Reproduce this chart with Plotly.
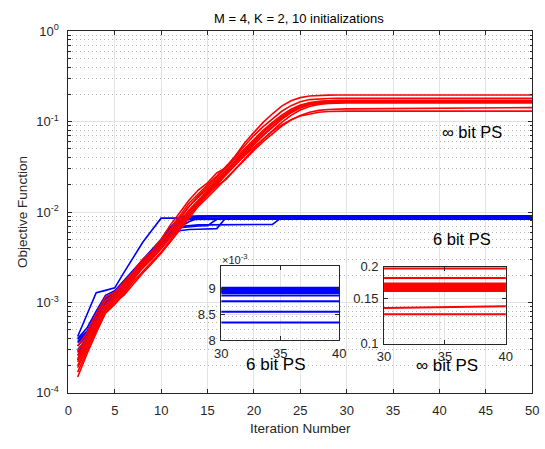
import plotly.graph_objects as go

iterations = list(range(1, 31)) + [50]

red_runs = [
    [3.3e-4, 4.6e-4, 7.5e-4, 1.15e-3, 1.3e-3, 1.7e-3, 2.2e-3, 3.0e-3, 3.7e-3, 5.0e-3, 7.2e-3, 9.8e-3, 1.35e-2, 1.75e-2, 2.1e-2, 2.7e-2, 3.1e-2, 4.2e-2, 5.8e-2, 7.6e-2, 9.8e-2, 0.122, 0.148, 0.170, 0.184, 0.192, 0.195, 0.196, 0.197, 0.197, 0.197],
    [2.9e-4, 4.2e-4, 6.8e-4, 1.05e-3, 1.25e-3, 1.6e-3, 2.1e-3, 2.8e-3, 3.5e-3, 4.7e-3, 6.6e-3, 9.0e-3, 1.25e-2, 1.6e-2, 2.0e-2, 2.5e-2, 3.2e-2, 4.1e-2, 5.4e-2, 7.0e-2, 8.8e-2, 0.108, 0.130, 0.150, 0.166, 0.175, 0.179, 0.180, 0.181, 0.181, 0.181],
    [2.2e-4, 3.5e-4, 5.6e-4, 8.6e-4, 1.1e-3, 1.45e-3, 1.95e-3, 2.5e-3, 3.2e-3, 4.2e-3, 5.7e-3, 7.9e-3, 1.05e-2, 1.35e-2, 1.75e-2, 2.2e-2, 2.8e-2, 3.6e-2, 4.7e-2, 6.0e-2, 7.6e-2, 9.3e-2, 0.112, 0.132, 0.149, 0.161, 0.168, 0.171, 0.172, 0.172, 0.172],
    [1.9e-4, 3.1e-4, 5.2e-4, 8.2e-4, 1.0e-3, 1.3e-3, 1.8e-3, 2.4e-3, 3.1e-3, 4.0e-3, 5.4e-3, 7.4e-3, 9.9e-3, 1.3e-2, 1.65e-2, 2.1e-2, 2.7e-2, 3.5e-2, 4.5e-2, 5.7e-2, 7.2e-2, 8.9e-2, 0.108, 0.127, 0.144, 0.157, 0.165, 0.169, 0.170, 0.170, 0.170],
    [2.6e-4, 3.9e-4, 6.2e-4, 9.5e-4, 1.2e-3, 1.4e-3, 1.9e-3, 2.6e-3, 3.4e-3, 4.5e-3, 6.2e-3, 8.5e-3, 1.15e-2, 1.5e-2, 1.9e-2, 2.4e-2, 3.0e-2, 3.9e-2, 5.0e-2, 6.4e-2, 8.0e-2, 9.8e-2, 0.118, 0.137, 0.152, 0.161, 0.166, 0.168, 0.168, 0.168, 0.168],
    [1.5e-4, 2.7e-4, 4.6e-4, 7.6e-4, 9.5e-4, 1.25e-3, 1.7e-3, 2.2e-3, 2.8e-3, 3.6e-3, 4.9e-3, 6.7e-3, 9.1e-3, 1.2e-2, 1.55e-2, 2.0e-2, 2.55e-2, 3.3e-2, 4.3e-2, 5.5e-2, 7.0e-2, 8.7e-2, 0.106, 0.125, 0.141, 0.153, 0.160, 0.164, 0.166, 0.166, 0.166],
    [2.4e-4, 3.7e-4, 5.9e-4, 9.0e-4, 1.15e-3, 1.55e-3, 2.0e-3, 2.7e-3, 3.4e-3, 4.6e-3, 6.3e-3, 8.6e-3, 1.15e-2, 1.45e-2, 1.8e-2, 2.3e-2, 2.9e-2, 3.7e-2, 4.8e-2, 6.1e-2, 7.7e-2, 9.4e-2, 0.113, 0.131, 0.146, 0.156, 0.161, 0.163, 0.164, 0.164, 0.164],
    [2.0e-4, 3.3e-4, 5.4e-4, 8.4e-4, 1.05e-3, 1.35e-3, 1.85e-3, 2.4e-3, 3.0e-3, 3.9e-3, 5.2e-3, 7.0e-3, 9.4e-3, 1.25e-2, 1.6e-2, 1.95e-2, 2.3e-2, 3.0e-2, 3.9e-2, 5.0e-2, 6.4e-2, 8.0e-2, 9.8e-2, 0.117, 0.134, 0.147, 0.155, 0.159, 0.161, 0.161, 0.161],
    [1.7e-4, 2.9e-4, 4.9e-4, 7.8e-4, 1.0e-3, 1.2e-3, 1.6e-3, 2.1e-3, 2.7e-3, 3.5e-3, 4.7e-3, 6.4e-3, 8.7e-3, 1.15e-2, 1.45e-2, 1.85e-2, 2.35e-2, 3.0e-2, 3.8e-2, 4.8e-2, 6.0e-2, 7.4e-2, 8.9e-2, 0.104, 0.117, 0.127, 0.133, 0.136, 0.1375, 0.138, 0.1425],
    [2.3e-4, 3.5e-4, 5.7e-4, 8.8e-4, 1.1e-3, 1.5e-3, 1.9e-3, 2.5e-3, 3.2e-3, 4.1e-3, 5.5e-3, 7.5e-3, 1.0e-2, 1.3e-2, 1.65e-2, 2.1e-2, 2.6e-2, 3.3e-2, 4.2e-2, 5.2e-2, 6.4e-2, 7.8e-2, 9.2e-2, 0.105, 0.115, 0.122, 0.127, 0.129, 0.130, 0.1305, 0.1305],
]

blue_runs = [
    [4.2e-4, 7.4e-4, 1.28e-3, 1.36e-3, 1.45e-3, 2.15e-3, 3.2e-3, 4.6e-3, 6.3e-3, 8.55e-3, 8.55e-3, 8.55e-3, 8.55e-3, 8.55e-3, 8.55e-3, 8.55e-3, 8.55e-3, 8.55e-3, 8.55e-3, 8.55e-3, 8.55e-3, 8.55e-3, 8.55e-3, 8.55e-3, 8.55e-3, 8.55e-3, 8.55e-3, 8.55e-3, 8.55e-3, 8.55e-3, 8.55e-3],
    [3.6e-4, 4.5e-4, 7.0e-4, 1.1e-3, 1.3e-3, 1.7e-3, 2.2e-3, 2.9e-3, 3.6e-3, 4.8e-3, 6.6e-3, 8.9e-3, 9.02e-3, 9.02e-3, 9.02e-3, 9.02e-3, 9.02e-3, 9.02e-3, 9.02e-3, 9.02e-3, 9.02e-3, 9.02e-3, 9.02e-3, 9.02e-3, 9.02e-3, 9.02e-3, 9.02e-3, 9.02e-3, 9.02e-3, 9.02e-3, 9.02e-3],
    [3.0e-4, 4.0e-4, 6.3e-4, 1.0e-3, 1.2e-3, 1.55e-3, 2.0e-3, 2.6e-3, 3.3e-3, 4.4e-3, 5.9e-3, 7.6e-3, 8.6e-3, 9.0e-3, 9.0e-3, 9.0e-3, 9.0e-3, 9.0e-3, 9.0e-3, 9.0e-3, 9.0e-3, 9.0e-3, 9.0e-3, 9.0e-3, 9.0e-3, 9.0e-3, 9.0e-3, 9.0e-3, 9.0e-3, 9.0e-3, 9.0e-3],
    [2.6e-4, 3.6e-4, 5.8e-4, 9.2e-4, 1.15e-3, 1.45e-3, 1.9e-3, 2.5e-3, 3.2e-3, 4.2e-3, 5.5e-3, 6.8e-3, 7.8e-3, 8.6e-3, 8.98e-3, 8.98e-3, 8.98e-3, 8.98e-3, 8.98e-3, 8.98e-3, 8.98e-3, 8.98e-3, 8.98e-3, 8.98e-3, 8.98e-3, 8.98e-3, 8.98e-3, 8.98e-3, 8.98e-3, 8.98e-3, 8.98e-3],
    [3.9e-4, 4.8e-4, 7.4e-4, 1.12e-3, 1.25e-3, 1.6e-3, 2.1e-3, 2.7e-3, 3.4e-3, 4.5e-3, 5.6e-3, 6.2e-3, 6.4e-3, 6.45e-3, 6.5e-3, 6.55e-3, 8.7e-3, 8.96e-3, 8.96e-3, 8.96e-3, 8.96e-3, 8.96e-3, 8.96e-3, 8.96e-3, 8.96e-3, 8.96e-3, 8.96e-3, 8.96e-3, 8.96e-3, 8.96e-3, 8.96e-3],
    [3.3e-4, 4.3e-4, 6.6e-4, 1.05e-3, 1.3e-3, 1.65e-3, 2.15e-3, 2.8e-3, 3.5e-3, 4.6e-3, 5.9e-3, 6.9e-3, 7.1e-3, 7.2e-3, 7.2e-3, 7.22e-3, 7.24e-3, 7.25e-3, 7.26e-3, 7.27e-3, 7.28e-3, 7.3e-3, 8.7e-3, 8.94e-3, 8.94e-3, 8.94e-3, 8.94e-3, 8.94e-3, 8.94e-3, 8.94e-3, 8.94e-3],
    [2.3e-4, 3.3e-4, 5.4e-4, 8.7e-4, 1.1e-3, 1.4e-3, 1.85e-3, 2.45e-3, 3.1e-3, 4.1e-3, 5.6e-3, 7.2e-3, 8.4e-3, 8.8e-3, 8.92e-3, 8.92e-3, 8.92e-3, 8.92e-3, 8.92e-3, 8.92e-3, 8.92e-3, 8.92e-3, 8.92e-3, 8.92e-3, 8.92e-3, 8.92e-3, 8.92e-3, 8.92e-3, 8.92e-3, 8.92e-3, 8.92e-3],
    [3.7e-4, 4.6e-4, 7.1e-4, 1.08e-3, 1.22e-3, 1.55e-3, 2.05e-3, 2.65e-3, 3.4e-3, 4.5e-3, 6.1e-3, 7.9e-3, 8.7e-3, 8.87e-3, 8.87e-3, 8.87e-3, 8.87e-3, 8.87e-3, 8.87e-3, 8.87e-3, 8.87e-3, 8.87e-3, 8.87e-3, 8.87e-3, 8.87e-3, 8.87e-3, 8.87e-3, 8.87e-3, 8.87e-3, 8.87e-3, 8.87e-3],
    [2.8e-4, 3.8e-4, 6.1e-4, 9.6e-4, 1.18e-3, 1.5e-3, 2.0e-3, 2.6e-3, 3.3e-3, 4.3e-3, 5.7e-3, 6.7e-3, 6.9e-3, 7.0e-3, 7.05e-3, 8.3e-3, 8.76e-3, 8.76e-3, 8.76e-3, 8.76e-3, 8.76e-3, 8.76e-3, 8.76e-3, 8.76e-3, 8.76e-3, 8.76e-3, 8.76e-3, 8.76e-3, 8.76e-3, 8.76e-3, 8.76e-3],
    [4.0e-4, 5.2e-4, 8.0e-4, 1.2e-3, 1.35e-3, 1.75e-3, 2.3e-3, 3.0e-3, 3.8e-3, 5.0e-3, 6.8e-3, 8.0e-3, 8.3e-3, 8.34e-3, 8.34e-3, 8.34e-3, 8.34e-3, 8.34e-3, 8.34e-3, 8.34e-3, 8.34e-3, 8.34e-3, 8.34e-3, 8.34e-3, 8.34e-3, 8.34e-3, 8.34e-3, 8.34e-3, 8.34e-3, 8.34e-3, 8.34e-3],
]

main_y_ticks = [1e-4, 1e-3, 1e-2, 1e-1, 1e0]
main_y_labels = ["10<sup>-4</sup>", "10<sup>-3</sup>", "10<sup>-2</sup>", "10<sup>-1</sup>", "10<sup>0</sup>"]
main_y_minor = [m * d for d in (1e-4, 1e-3, 1e-2, 1e-1) for m in (2, 3, 4, 5, 6, 7, 8, 9)]
blue_inset_ticks = [8, 8.5, 9]
inset_x_ticks = [30, 35, 40]
red_inset_ticks = [0.1, 0.15, 0.2]
red_inset_labels = ["0.1", "0.15", "0.2"]

W, H = 545, 449
def px(x):
    return x / W
def py(y):
    return (H - y) / H
def dx(a, b):
    return [px(a), px(b)]
def dy(top, bottom):
    return [py(bottom), py(top)]

RED = "#FF0000"
BLUE = "#0000FF"
AX = "#262626"
FONT = "Liberation Sans, Arial, sans-serif"
GRID = "#e3e3e3"
MINOR = "#b5b5b5"
DOT = "1px,3px"

fig = go.Figure()

for run in blue_runs:
    fig.add_trace(go.Scatter(x=iterations, y=run, mode="lines", line=dict(color=BLUE, width=1.6),
                             xaxis="x", yaxis="y", showlegend=False, hoverinfo="skip"))
for run in red_runs:
    fig.add_trace(go.Scatter(x=iterations, y=run, mode="lines", line=dict(color=RED, width=1.6),
                             xaxis="x", yaxis="y", showlegend=False, hoverinfo="skip"))
for run in blue_runs:
    fig.add_trace(go.Scatter(x=iterations, y=[v * 1e3 for v in run], mode="lines",
                             line=dict(color=BLUE, width=2),
                             xaxis="x2", yaxis="y2", showlegend=False, hoverinfo="skip"))
for run in red_runs:
    fig.add_trace(go.Scatter(x=iterations, y=run, mode="lines", line=dict(color=RED, width=2),
                             xaxis="x3", yaxis="y3", showlegend=False, hoverinfo="skip"))

def axis_style(size=13, standoff=6):
    return dict(showline=True, linecolor=AX, linewidth=1, mirror="ticks", ticks="inside",
                tickcolor=AX, ticklen=4, tickwidth=1,
                tickfont=dict(family=FONT, size=size, color=AX),
                zeroline=False, ticklabelstandoff=standoff, gridwidth=1)

fig.update_layout(
    width=W, height=H, margin=dict(l=0, r=0, t=0, b=0),
    paper_bgcolor="white", plot_bgcolor="rgba(0,0,0,0)",
    font=dict(family=FONT, color=AX),
    xaxis=dict(domain=dx(63, 539), range=[0, 50], tickmode="linear", dtick=5, tick0=0,
               showgrid=True, gridcolor=GRID,
               title=dict(text="Iteration Number", font=dict(size=13.5, color=AX), standoff=6),
               **axis_style(13, 6)),
    yaxis=dict(domain=dy(23, 399), type="log", range=[-4, 0], tickmode="array",
               tickvals=main_y_ticks, ticktext=main_y_labels, showgrid=True, gridcolor=GRID,
               minor=dict(tickmode="array", tickvals=main_y_minor, showgrid=True,
                          gridcolor=MINOR, griddash=DOT, gridwidth=1, ticks="inside",
                          ticklen=2.5, tickwidth=1, tickcolor=AX),
               title=dict(text="Objective Function", font=dict(size=13.5, color=AX), standoff=5),
               **axis_style(13, 6)),
    xaxis2=dict(domain=dx(220, 341), range=[30, 40], tickmode="array", tickvals=inset_x_ticks,
                showgrid=True, gridcolor=GRID, anchor="y2",
                **axis_style(13, 1)),
    yaxis2=dict(domain=dy(267, 344), range=[8, 9.45], tickmode="array",
                tickvals=blue_inset_ticks, showgrid=True, gridcolor=GRID, anchor="x2",
                **axis_style(13, 2)),
    xaxis3=dict(domain=dx(387, 512), range=[30, 40], tickmode="array", tickvals=inset_x_ticks,
                showgrid=True, gridcolor=GRID, anchor="y3",
                **axis_style(13, 1)),
    yaxis3=dict(domain=dy(268, 348), type="log", range=[-1, -0.69897], tickmode="array",
                tickvals=red_inset_ticks, ticktext=red_inset_labels, showgrid=True,
                gridcolor=GRID, anchor="x3",
                **axis_style(13, 2)),
    annotations=[
        dict(text="M = 4, K = 2, 10 initializations", x=px(300), y=py(10), xref="paper",
             yref="paper", showarrow=False, font=dict(size=13, color="#000000"),
             xanchor="center", yanchor="middle"),
        dict(text="∞ bit PS", x=px(477), y=py(128), xref="paper", yref="paper",
             showarrow=False, font=dict(size=16.5, color="#000000"), xanchor="center", yanchor="middle"),
        dict(text="6 bit PS", x=px(467), y=py(239), xref="paper", yref="paper",
             showarrow=False, font=dict(size=16.5, color="#000000"), xanchor="center", yanchor="middle"),
        dict(text="6 bit PS", x=px(276), y=py(369), xref="paper", yref="paper",
             showarrow=False, font=dict(size=17, color="#000000"), xanchor="center", yanchor="middle"),
        dict(text="∞ bit PS", x=px(452), y=py(371), xref="paper", yref="paper",
             showarrow=False, font=dict(size=17, color="#000000"), xanchor="center", yanchor="middle"),
        dict(text="×10<sup>-3</sup>", x=px(219), y=py(260), xref="paper", yref="paper",
             showarrow=False, font=dict(size=11, color=AX), xanchor="left", yanchor="middle"),
    ],
)

fig.write_html("out.html")
